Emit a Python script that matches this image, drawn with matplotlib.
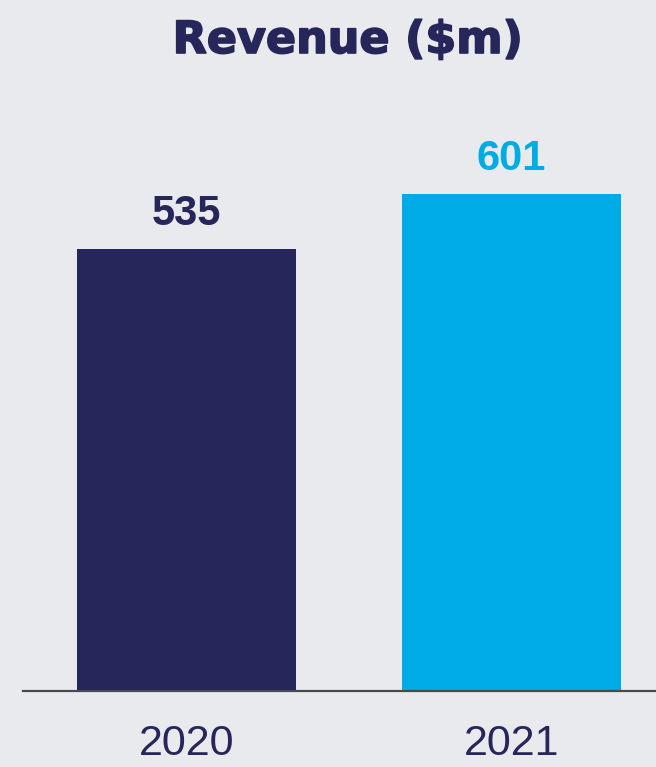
import matplotlib.pyplot as plt
import matplotlib.patheffects as pe

years = ["2020", "2021"]
revenue = [535, 601]
bar_colors = ["#26265A", "#00ACE6"]
title = "Revenue ($m)"

BG = "#E9EAEE"
NAVY = "#26265A"

plt.rcParams["font.family"] = ["Liberation Sans", "DejaVu Sans"]

W, H = 656, 767
fig = plt.figure(figsize=(W / 100, H / 100), dpi=100, facecolor=BG)

# axes spans from the baseline (y=691px) up; x from 23px to right edge
ax_left, ax_right = 23 / W, 1.0
ax_bottom = 1 - 691 / H
ax_top = 1 - 100 / H
ax = fig.add_axes([ax_left, ax_bottom, ax_right - ax_left, ax_top - ax_bottom])
ax.set_facecolor(BG)

x = list(range(len(years)))
ax.bar(x, revenue, width=219 / 325, color=bar_colors, zorder=2)

px_per_unit = 442 / 535
ymax = (691 - 100) / px_per_unit
ax.set_ylim(0, ymax)
ax.set_xlim((23 - 186.5) / 325, (656 - 186.5) / 325)

for xi, v, c in zip(x, revenue, bar_colors):
    ax.annotate(f"{v}", (xi, v), xytext=(0, 11), textcoords="offset points",
                ha="center", va="bottom", fontsize=30, fontweight="bold",
                color=c)

for s in ["top", "right", "left"]:
    ax.spines[s].set_visible(False)
ax.spines["bottom"].set_color("#464B51")
ax.spines["bottom"].set_linewidth(1.6)
ax.spines["bottom"].set_zorder(3)

ax.set_yticks([])
ax.set_xticks(x)
ax.set_xticklabels(years, fontsize=31, color=NAVY)
ax.tick_params(axis="x", length=0, pad=24)

fig.text(348 / W, 1 - 53 / H, title, ha="center", va="baseline",
         fontsize=32, fontweight="bold", color=NAVY,
         family=["DejaVu Sans"],
         path_effects=[pe.withStroke(linewidth=1.2, foreground=NAVY)])

fig.savefig("out.png", dpi=100, facecolor=BG)
